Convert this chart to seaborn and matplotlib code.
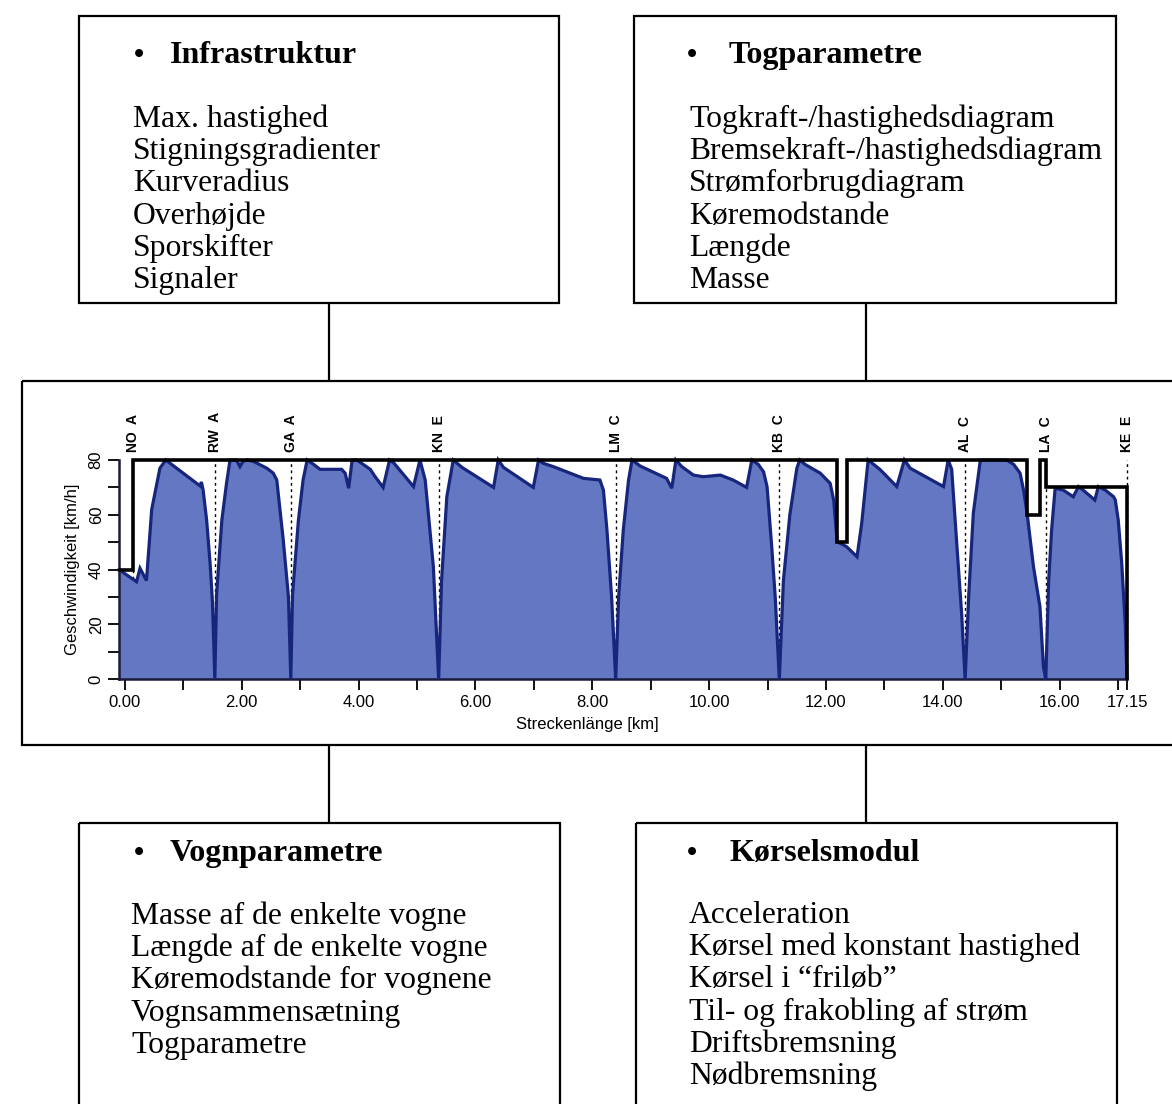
import matplotlib
matplotlib.use("Agg")
import matplotlib.pyplot as plt
from matplotlib.patches import Rectangle
import pandas as pd
import seaborn as sns

# stations along the route (code, class, position in km)
stations = ["NO", "RW", "GA", "KN", "LM", "KB", "AL", "LA", "KE"]
station_class = ["A", "A", "A", "E", "C", "C", "C", "C", "E"]
station_km = [0.14, 1.54, 2.84, 5.38, 8.41, 11.20, 14.38, 15.76, 17.15]

# permitted speed (step profile)
limit_km = [-0.10, 0.14, 0.14, 12.19, 12.19, 12.35, 12.35, 15.44, 15.44,
            15.66, 15.66, 15.76, 15.76, 17.15, 17.15]
limit_kmh = [40, 40, 80, 80, 50, 50, 80, 80, 60, 60, 80, 80, 70, 70, 0]

# simulated run
run_km = [-0.10, 0.20, 0.26, 0.37, 0.46, 0.60, 0.70, 1.29, 1.31, 1.34, 1.40, 1.46, 1.50, 1.54,
          1.57, 1.66, 1.74, 1.80, 1.91, 1.97, 2.02, 2.09, 2.20, 2.43, 2.54, 2.60, 2.71, 2.80, 2.84,
          2.87, 2.97, 3.05, 3.12, 3.23, 3.34, 3.71, 3.77, 3.83, 3.89, 3.97, 4.20, 4.28, 4.42, 4.53,
          4.60, 4.94, 5.05, 5.14, 5.28, 5.37,
          5.42, 5.51, 5.62, 5.77, 6.31, 6.39, 6.48, 6.99, 7.08, 7.16, 7.33, 7.56, 7.85, 8.13, 8.19,
          8.25, 8.33, 8.40,
          8.45, 8.53, 8.62, 8.68, 8.82, 9.27, 9.36, 9.43, 9.53, 9.73, 9.90, 10.19, 10.41, 10.64,
          10.73, 10.84, 10.93, 10.99, 11.07, 11.13, 11.20,
          11.27, 11.38, 11.50, 11.55, 11.64, 11.90, 12.07, 12.13, 12.19, 12.35, 12.53, 12.61, 12.72,
          12.92, 13.21, 13.34, 13.44, 14.01, 14.09, 14.15, 14.24, 14.32, 14.38,
          14.44, 14.52, 14.64, 15.09, 15.21, 15.32, 15.38, 15.44, 15.55, 15.66, 15.72, 15.76,
          15.81, 15.86, 15.92, 16.06, 16.23, 16.32, 16.40, 16.60, 16.66, 16.78, 16.92, 16.95,
          17.00, 17.06, 17.12, 17.15]
run_kmh = [40, 35.6, 40.5, 36, 62, 77, 80, 70.5, 72, 69, 58, 42, 28, 0,
           31, 58, 71.5, 80, 80, 77.6, 79.5, 80, 79.5, 77, 75.2, 72.7, 51, 30, 0,
           31, 58, 72.7, 80, 78.4, 76.6, 76.6, 75.2, 69.7, 80, 80, 76.6, 74, 70, 80,
           79, 70.3, 80, 72.7, 41, 0,
           36, 66.6, 80, 77.3, 70, 80, 77.3, 70, 80, 78.8, 77.6, 75.7, 73.3, 72.7, 69,
           54.5, 30, 0,
           30, 54.5, 72.7, 80, 77.8, 73.3, 69.7, 80, 77.6, 74.5, 73.9, 74.5, 72.7, 70,
           80, 78.4, 75.7, 70.3, 48.4, 30, 0,
           36, 60, 77, 80, 78.4, 75.2, 71.5, 65.4, 50.2, 48.4, 44.7, 56.9, 80,
           76.6, 70.3, 80, 77, 70.3, 80, 76.6, 48.4, 24, 0,
           30, 60.6, 80, 80, 78.4, 75.2, 69, 60.6, 41, 26.5, 4.6, 0,
           36.2, 54.5, 69.7, 69, 66.6, 70.3, 69, 65.4, 70.3, 69, 66.6, 65.4,
           58.1, 42.3, 20, 0]

box_titles = ["Infrastruktur", "Togparametre", "Vognparametre", "Kørselsmodul"]
infra_items = ["Max. hastighed", "Stigningsgradienter", "Kurveradius", "Overhøjde",
               "Sporskifter", "Signaler"]
train_items = ["Togkraft-/hastighedsdiagram", "Bremsekraft-/hastighedsdiagram",
               "Strømforbrugdiagram", "Køremodstande", "Længde", "Masse"]
wagon_items = ["Masse af de enkelte vogne", "Længde af de enkelte vogne",
               "Køremodstande for vognene", "Vognsammensætning", "Togparametre"]
drive_items = ["Acceleration", "Kørsel med konstant hastighed", "Kørsel i “friløb”",
               "Til- og frakobling af strøm", "Driftsbremsning", "Nødbremsning"]

sns.set_style("ticks")
plt.rcParams["font.family"] = ["Liberation Sans", "DejaVu Sans"]
plt.rcParams.update({"text.color": "black", "axes.labelcolor": "black",
                     "xtick.color": "black", "ytick.color": "black"})

W, H = 1172, 1104
fig = plt.figure(figsize=(W / 100, H / 100), dpi=100)

# ---- diagram frame (pixel coordinates) ----
bg = fig.add_axes([0, 0, 1, 1])
bg.set_xlim(0, W)
bg.set_ylim(H, 0)
bg.axis("off")

lw_box = 1.6
for (x0, y0, x1, y1) in [(79, 16, 559, 303), (634, 16, 1116, 303),
                         (22, 381, 1200, 745), (79, 823, 560, 1130), (636, 823, 1117, 1130)]:
    bg.add_patch(Rectangle((x0, y0), x1 - x0, y1 - y0, fill=False,
                           edgecolor="black", lw=lw_box, clip_on=False))
for x in (329, 866):
    bg.plot([x, x], [303, 381], color="black", lw=lw_box)
    bg.plot([x, x], [745, 823], color="black", lw=lw_box)

serif = ["Liberation Serif", "DejaVu Serif"]
layout = [
    (box_titles[0], infra_items, 139, 170, 133, 63, 127),
    (box_titles[1], train_items, 692, 729, 689, 63, 127),
    (box_titles[2], wagon_items, 139, 170, 131, 861, 924),
    (box_titles[3], drive_items, 692, 729, 689, 861, 923),
]
for title, items, bx, tx, ix, ty, iy in layout:
    bg.text(bx, ty, "•", ha="center", va="baseline", fontsize=21,
            fontweight="bold", family=serif, color="black")
    bg.text(tx, ty, title, ha="left", va="baseline", fontsize=23,
            fontweight="bold", family=serif, color="black")
    for i, item in enumerate(items):
        bg.text(ix, iy + i * 32.2, item, ha="left", va="baseline",
                fontsize=22.8, family=serif, color="black")

# ---- speed profile chart ----
ax = fig.add_axes([119 / W, (H - 679.3) / H, 1008 / W, 219.3 / H])
ax.set_facecolor("white")

for km in station_km:
    ax.plot([km, km], [0, 80], color="black", lw=1.0, ls=(0, (2, 2.5)),
            zorder=1, clip_on=False)

ax.fill_between(run_km, run_kmh, 0, color="#6377c3", lw=0, zorder=2)
run_df = pd.DataFrame({"km": run_km, "kmh": run_kmh})
limit_df = pd.DataFrame({"km": limit_km, "kmh": limit_kmh})
sns.lineplot(data=run_df, x="km", y="kmh", sort=False, estimator=None,
             color="#17267c", lw=2.3, ax=ax, zorder=3)
sns.lineplot(data=limit_df, x="km", y="kmh", sort=False, estimator=None,
             color="black", lw=2.6, ax=ax, zorder=4)
for ln in ax.lines:
    ln.set_clip_on(False)
    ln.set_solid_joinstyle("miter")

for code, cls, km in zip(stations, station_class, station_km):
    ax.annotate(f"{code}  {cls}", xy=(km, 80), xytext=(0, 6), textcoords="offset points",
                rotation=90, ha="center", va="bottom", fontsize=10, fontweight="bold",
                annotation_clip=False, color="black")

ax.set_xlim(-0.10, 17.15)
ax.set_ylim(0, 80)
xt = list(range(0, 18)) + [17.15]
ax.set_xticks(xt)
ax.set_xticklabels([f"{v:.2f}" if (v % 2 == 0 or v == 17.15) else "" for v in xt])
ax.set_yticks(range(0, 81, 10))
ax.set_yticklabels([str(v) if v % 20 == 0 else "" for v in range(0, 81, 10)])
ax.tick_params(axis="both", length=8, width=1.4, color="#111111", labelsize=12, pad=3)
ax.tick_params(axis="y", labelrotation=90)
for lbl in ax.get_yticklabels():
    lbl.set_va("center")
ax.set_xlabel("Streckenlänge [km]", fontsize=12, labelpad=4)
ax.set_ylabel("Geschwindigkeit [km/h]", fontsize=12, labelpad=6)
ax.xaxis.set_label_coords(0.465, -0.17)
sns.despine(ax=ax, top=True, right=True)
for side in ("left", "bottom"):
    ax.spines[side].set_linewidth(1.8)
    ax.spines[side].set_color("#1a1a3a")

fig.savefig("out.png", dpi=100)
